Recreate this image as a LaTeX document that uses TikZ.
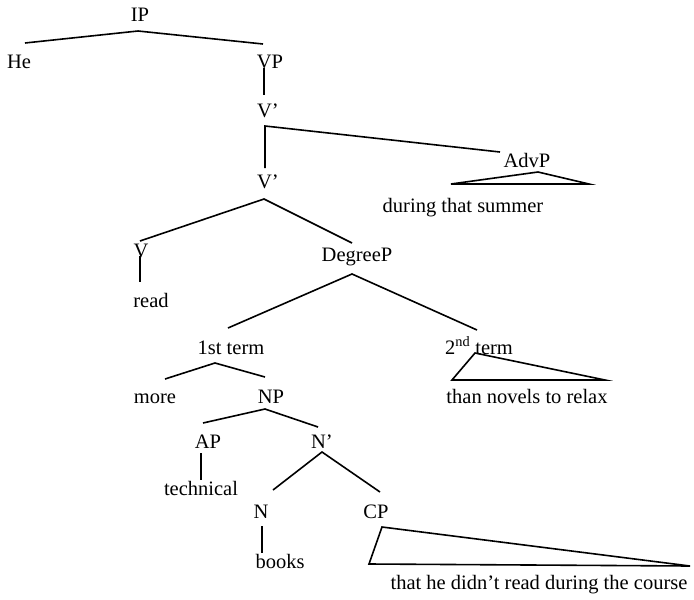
\documentclass[tikz,border=0pt]{standalone}
\usepackage{fontspec}
\setmainfont{Liberation Serif}
\usetikzlibrary{calc}
\begin{document}
\begin{tikzpicture}[x=1pt,y=-1pt,
  lbl/.style={anchor=base,inner sep=0pt,font=\fontsize{20.5}{24}\selectfont},
  br/.style={line width=1.6pt,line join=miter}]
\useasboundingbox (0,0) rectangle (694,600);
\fill[white] (0,0) rectangle (694,600);
% labels
\node[lbl] (IP) at (140,21) {IP};
\node[lbl] (He) at (19,68) {He};
\node[lbl] (VP) at (270,68) {VP};
\node[lbl] (Vb1) at (268,117) {V’};
\node[lbl] (Vb2) at (268,188) {V’};
\node[lbl] (AdvP) at (527,167) {AdvP};
\node[lbl] (summer) at (463,212) {during that summer};
\node[lbl] (V) at (141,257) {V};
\node[lbl] (read) at (151,307) {read};
\node[lbl] (DegP) at (357,261) {DegreeP};
\node[lbl] (first) at (231,354) {1st term};
\node[lbl] (second) at (479,354) {2\textsuperscript{nd} term};
\node[lbl] (more) at (155,403) {more};
\node[lbl] (NP) at (271,403) {NP};
\node[lbl] (relax) at (527,403) {than novels to relax};
\node[lbl] (AP) at (208,448) {AP};
\node[lbl] (Nb) at (322,448) {N’};
\node[lbl] (technical) at (201,495) {technical};
\node[lbl] (N) at (261,518) {N};
\node[lbl] (CP) at (376,518) {CP};
\node[lbl] (books) at (280,568) {books};
\node[lbl] (course) at (539,589) {that he didn’t read during the course};
% branches
\draw[br] ($(He.base)+(6,-25)$) -- ($(IP.base)+(-2,10)$) -- ($(VP.base)+(-7,-24)$);
\draw[br] ($(VP.base)+(-6,0)$) -- ($(Vb1.base)+(-4,-22)$);
\draw[br] ($(Vb2.base)+(-3,-20)$) -- ($(Vb1.base)+(-3,9)$) -- ($(AdvP.base)+(-27,-15)$);
\draw[br] ($(summer.base)+(-12,-28)$) -- ($(AdvP.base)+(11,5)$) -- ($(summer.base)+(126,-28)$) -- cycle;
\draw[br] ($(V.base)+(-1,-16)$) -- ($(Vb2.base)+(-4,11)$) -- ($(DegP.base)+(-5,-18)$);
\draw[br] ($(V.base)+(-1,-1)$) -- ($(read.base)+(-11,-25)$);
\draw[br] ($(first.base)+(-3,-26)$) -- ($(DegP.base)+(-5,13)$) -- ($(second.base)+(-2,-24)$);
\draw[br] ($(relax.base)+(-75,-23)$) -- ($(second.base)+(-4,-1)$) -- ($(relax.base)+(78,-23)$) -- cycle;
\draw[br] ($(more.base)+(10,-24)$) -- ($(first.base)+(-16,9)$) -- ($(NP.base)+(-6,-26)$);
\draw[br] ($(AP.base)+(-5,-25)$) -- ($(NP.base)+(-6,6)$) -- ($(Nb.base)+(-4,-21)$);
\draw[br] ($(AP.base)+(-7,5)$) -- ($(technical.base)+(0,-15)$);
\draw[br] ($(N.base)+(12,-28)$) -- ($(Nb.base)+(0,4)$) -- ($(CP.base)+(4,-26)$);
\draw[br] ($(N.base)+(1,8)$) -- ($(books.base)+(-18,-15)$);
\draw[br] ($(course.base)+(-170,-25)$) -- ($(CP.base)+(6,9)$) -- ($(course.base)+(151,-23)$) -- cycle;
\end{tikzpicture}
\end{document}
